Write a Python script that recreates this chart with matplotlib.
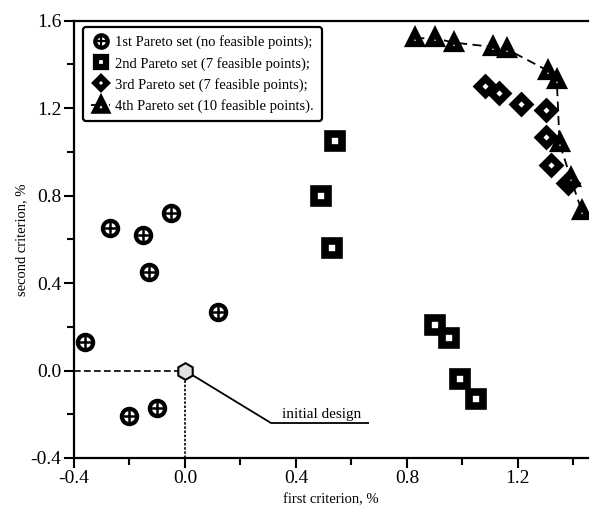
import numpy as np
import matplotlib
matplotlib.use("Agg")
import matplotlib.pyplot as plt
from matplotlib.lines import Line2D

plt.rcParams['font.family'] = ['Liberation Serif', 'DejaVu Serif']

# 1st Pareto set (no feasible points)
set1_x = [-0.36, -0.27, -0.15, -0.05, -0.13, 0.12, -0.20, -0.10]
set1_y = [0.13, 0.65, 0.62, 0.72, 0.45, 0.27, -0.21, -0.17]

# 2nd Pareto set (7 feasible points)
set2_x = [0.54, 0.49, 0.53, 0.90, 0.95, 0.99, 1.05]
set2_y = [1.05, 0.80, 0.56, 0.21, 0.15, -0.04, -0.13]

# 3rd Pareto set (7 feasible points)
set3_x = [1.08, 1.13, 1.21, 1.30, 1.30, 1.32, 1.38]
set3_y = [1.30, 1.27, 1.22, 1.19, 1.07, 0.94, 0.86]

# 4th Pareto set (10 feasible points)
set4_x = [0.83, 0.90, 0.97, 1.11, 1.16, 1.31, 1.34, 1.35, 1.39, 1.43]
set4_y = [1.52, 1.52, 1.50, 1.48, 1.47, 1.37, 1.33, 1.04, 0.88, 0.73]

init_x, init_y = 0.0, 0.0
label_pt = (0.31, -0.24)
label_end = 0.66

labels = ['1st Pareto set (no feasible points);',
          '2nd Pareto set (7 feasible points);',
          '3rd Pareto set (7 feasible points);',
          '4th Pareto set (10 feasible points).']

fig = plt.figure(figsize=(5.92, 5.12), dpi=100)
ax = fig.add_axes([0.125, 0.1055, 0.868, 0.854])

# guide lines from the initial design
ax.plot([-0.4, init_x], [init_y, init_y], color='black', lw=1.2, ls=(0, (4, 2)), zorder=2)
ax.plot([init_x, init_x], [-0.4, init_y], color='black', lw=1.2, ls=(0, (1.5, 1)), zorder=2)
ax.plot([init_x, label_pt[0], label_end], [init_y, label_pt[1], label_pt[1]],
        color='black', lw=1.3, zorder=2)
ax.text(0.35, label_pt[1] + 0.01, 'initial design', fontsize=11, ha='left', va='bottom')
ax.plot(init_x, init_y, marker='h', ms=12, mfc='#e0e0e0', mec='black', mew=1.5, zorder=5)

# 1st set: crossed circles
ax.plot(set1_x, set1_y, ls='none', marker='o', ms=11, mfc='white', mec='black', mew=3, zorder=4)
ax.plot(set1_x, set1_y, ls='none', marker='+', ms=11, mec='black', mew=1.8, zorder=4)

# 2nd set: squares
ax.plot(set2_x, set2_y, ls='none', marker='s', ms=9.5, mfc='white', mec='black', mew=5.5, zorder=4)

# 3rd set: diamonds
ax.plot(set3_x, set3_y, ls='none', marker='D', ms=8, mfc='white', mec='black', mew=5, zorder=4)

# 4th set: triangles joined by a dashed line
ax.plot(set4_x, set4_y, color='black', lw=1.3, ls=(0, (5, 3)), zorder=3)
ax.plot(set4_x, set4_y, ls='none', marker='^', ms=9, mfc='white', mec='black', mew=4.5, zorder=4)

ax.set_xlim(-0.4, 1.452)
ax.set_ylim(-0.4, 1.6)
ax.set_xticks([-0.4, 0.0, 0.4, 0.8, 1.2])
ax.set_xticks([-0.2, 0.2, 0.6, 1.0, 1.4], minor=True)
ax.set_yticks([-0.4, 0.0, 0.4, 0.8, 1.2, 1.6])
ax.set_yticks([-0.2, 0.2, 0.6, 1.0, 1.4], minor=True)
ax.xaxis.set_major_formatter(plt.FormatStrFormatter('%.1f'))
ax.yaxis.set_major_formatter(plt.FormatStrFormatter('%.1f'))
ax.tick_params(which='major', direction='out', length=7, width=1.5, labelsize=14, pad=2)
ax.tick_params(which='minor', direction='out', length=5, width=1.5)
ax.spines['right'].set_visible(False)
for s in ['left', 'bottom', 'top']:
    ax.spines[s].set_linewidth(1.6)

ax.set_xlabel('first criterion, %', fontsize=10.5, labelpad=4)
ax.set_ylabel('second criterion, %', fontsize=10.5, labelpad=2)

handles = [
    (Line2D([], [], ls='none', marker='o', ms=9, mfc='white', mec='black', mew=3),
     Line2D([], [], ls='none', marker='+', ms=9, mec='black', mew=1.6)),
    Line2D([], [], ls='none', marker='s', ms=7, mfc='white', mec='black', mew=4.5),
    Line2D([], [], ls='none', marker='D', ms=6, mfc='white', mec='black', mew=4),
    Line2D([], [], color='black', lw=1.3, ls=(0, (3, 2)), marker='^', ms=8,
           mfc='white', mec='black', mew=4),
]
leg = ax.legend(handles, labels, loc='upper left', bbox_to_anchor=(0.018, 0.985),
                fontsize=10.5, frameon=True, fancybox=True, handlelength=1.3,
                handletextpad=0.35, borderpad=0.55, labelspacing=0.5, borderaxespad=0)
leg.get_frame().set_edgecolor('black')
leg.get_frame().set_linewidth(1.6)
leg.get_frame().set_alpha(1)

fig.savefig('out.png', dpi=100)
